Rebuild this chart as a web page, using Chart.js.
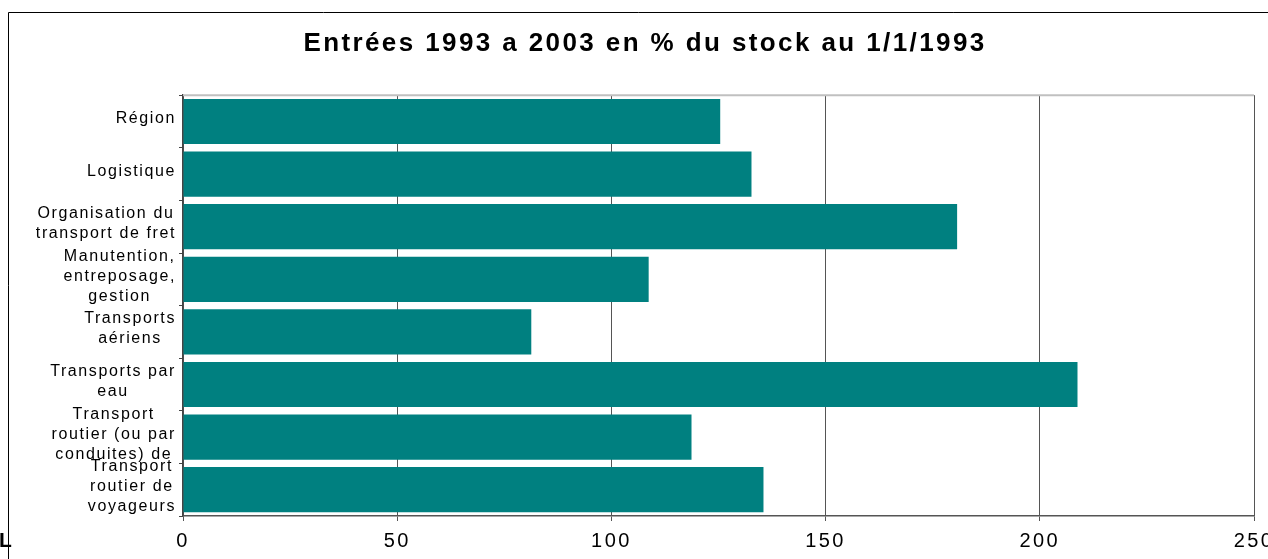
<!DOCTYPE html>
<html>
<head>
<meta charset="utf-8">
<script src="https://cdn.jsdelivr.net/npm/chart.js@4"></script>
<style>
  html, body { margin: 0; padding: 0; background: #fff; }
  canvas { display: block; }
</style>
</head>
<body>
<canvas id="canvas" width="1268" height="559"></canvas>
<script>
var categories = [
    'Région',
    'Logistique',
    ['Organisation du', 'transport de fret'],
    ['Manutention,', 'entreposage,', 'gestion'],
    ['Transports', 'aériens'],
    ['Transports par', 'eau'],
    ['Transport', 'routier (ou par', 'conduites) de'],
    ['Transport', 'routier de', 'voyageurs']
];
var entrees = [125.4, 132.7, 180.7, 108.7, 81.3, 208.8, 118.7, 135.5];
var xTicks = [0, 50, 100, 150, 200, 250];

var FONT = "'Liberation Sans', Arial, sans-serif";

// frame, plot top border, y labels (centered per label, right aligned)
var decor = {
    id: 'decor',
    beforeDraw: function(chart) {
        chart.ctx.letterSpacing = '2.4px';
    },
    afterDraw: function(chart) {
        var ctx = chart.ctx;
        var area = chart.chartArea;
        var yScale = chart.scales.y;
        ctx.save();
        ctx.letterSpacing = '0px';

        // top border of plot area
        ctx.strokeStyle = '#c0c0c0';
        ctx.lineWidth = 2;
        ctx.beginPath();
        ctx.moveTo(area.left, area.top);
        ctx.lineTo(area.right, area.top);
        ctx.stroke();

        // outer frame
        ctx.strokeStyle = '#000';
        ctx.lineWidth = 1;
        ctx.beginPath();
        ctx.moveTo(8.5, 559);
        ctx.lineTo(8.5, 12.5);
        ctx.lineTo(1268, 12.5);
        ctx.stroke();

        // stray letter at bottom left
        ctx.fillStyle = '#000';
        ctx.font = 'bold 21px ' + FONT;
        ctx.textAlign = 'left';
        ctx.textBaseline = 'alphabetic';
        ctx.fillText('L', -1, 547);

        // category labels
        ctx.letterSpacing = '1.6px';
        ctx.font = '16px ' + FONT;
        ctx.textAlign = 'center';
        ctx.textBaseline = 'middle';
        var right = yScale.right - 7;
        categories.forEach(function(label, i) {
            var lines = Array.isArray(label) ? label : [label];
            var widest = 0;
            lines.forEach(function(l) {
                widest = Math.max(widest, ctx.measureText(l).width);
            });
            var cx = right - widest / 2;
            var y = yScale.getPixelForTick(i) - 3 - (lines.length - 1) * 10;
            lines.forEach(function(l, j) {
                ctx.fillText(l, cx, y + j * 20);
            });
        });
        ctx.restore();
    }
};

var config = {
    type: 'bar',
    data: {
        labels: categories,
        datasets: [{
            data: entrees,
            backgroundColor: '#008080',
            borderWidth: 0,
            barPercentage: 0.86,
            categoryPercentage: 1
        }]
    },
    options: {
        indexAxis: 'y',
        responsive: false,
        animation: false,
        devicePixelRatio: 1,
        layout: {
            padding: { left: 36, right: 14, top: 0, bottom: 0 }
        },
        plugins: {
            legend: { display: false },
            tooltip: { enabled: false },
            title: {
                display: true,
                text: 'Entrées 1993 a 2003 en % du stock au 1/1/1993',
                color: '#000',
                font: { family: FONT, size: 26, weight: 'bold', lineHeight: 1.2 },
                padding: { top: 28, bottom: 36 }
            }
        },
        scales: {
            x: {
                min: 0,
                max: 250,
                afterBuildTicks: function(scale) {
                    scale.ticks = xTicks.map(function(v) { return { value: v }; });
                },
                afterFit: function(scale) {
                    scale.height = 43;
                    scale.paddingLeft = 0;
                    scale.paddingRight = 0;
                },
                ticks: {
                    color: '#000',
                    font: { family: FONT, size: 20 },
                    padding: 8,
                    maxRotation: 0
                },
                grid: {
                    color: '#555',
                    lineWidth: 1,
                    drawTicks: true,
                    tickLength: 5
                },
                border: { color: '#555', width: 1.5 }
            },
            y: {
                afterFit: function(scale) {
                    scale.width = 147;
                },
                ticks: { display: false },
                grid: {
                    drawOnChartArea: false,
                    drawTicks: true,
                    tickLength: 4,
                    color: '#444',
                    offset: true
                },
                border: { color: '#444', width: 1.5 }
            }
        }
    },
    plugins: [decor]
};

var ctx = document.getElementById('canvas').getContext('2d');
window.myBar = new Chart(ctx, config);
</script>
</body>
</html>
